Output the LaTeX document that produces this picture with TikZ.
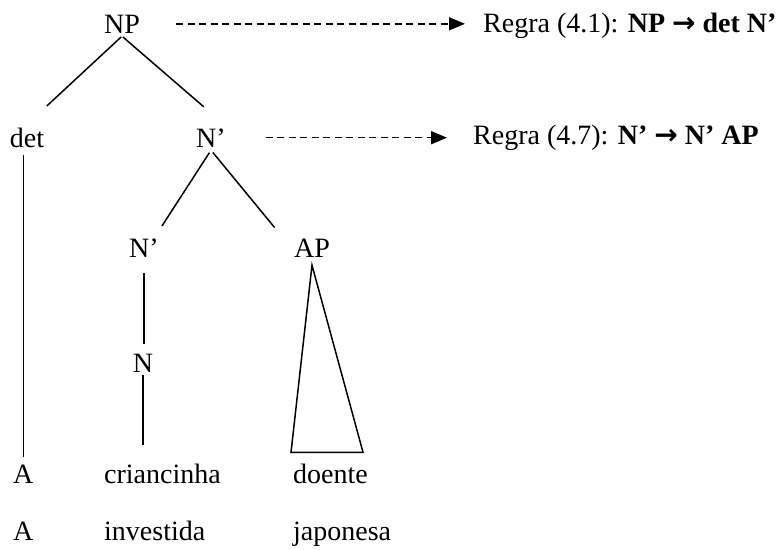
\documentclass[tikz,border=0pt]{standalone}
\usepackage{fontspec}
\setmainfont{Liberation Serif}
\newfontfamily\arrowfont{DejaVu Sans}
\usetikzlibrary{arrows.meta}

\newcommand{\rarr}{{\arrowfont\bfseries →}}

\begin{document}
\begin{tikzpicture}[x=1pt,y=-1pt,
		every node/.style={font=\fontsize{28}{32}\selectfont, inner sep=3pt},
		cat/.style={anchor=base},
		word/.style={anchor=base west},
		branch/.style={line width=1.5pt},
		rulearrow/.style={-{Triangle[length=16pt,width=13pt]}, line width=1.6pt, dash pattern=on 7pt off 4.5pt}]
		
		\useasboundingbox (0,0) rectangle (778,549);
		
		\node (np) [cat] at (122,33) {NP};
		\node (det) [cat] at (27,147) {det};
		\node (nbar) [cat] at (211,147) {N’};
		\node (nbarlow) [cat] at (144,257) {N’};
		\node (ap) [cat] at (312,257) {AP};
		\node (n) [cat] at (143,372) {N};
		
		\node (a1) [word] at (10,483) {A};
		\node (crian) [word] at (101,483) {criancinha};
		\node (doente) [word] at (290,483) {doente};
		\node (a2) [word] at (10,540) {A};
		\node (invest) [word] at (101,540) {investida};
		\node (japon) [word] at (290,540) {japonesa};
		
		\node (rule1) [word] at (480,32.5) {Regra (4.1): \textbf{NP \rarr{} det N’}};
		\node (rule2) [word] at (470,144.5) {Regra (4.7): \textbf{N’ \rarr{} N’ AP}};
		
		\path [branch]
		(np.south) edge [shorten <=1pt, shorten >=27pt] (det.north)
		(np.south) edge [shorten <=1pt, shorten >=28pt] ([xshift=14pt]nbar.north)
		(nbar.south) edge [shorten <=3pt, shorten >=11pt] ([xshift=12pt]nbarlow.north)
		(nbar.south) edge [shorten <=3pt, shorten >=10pt] ([xshift=-31pt]ap.north)
		(a1.north |- det.south) edge [shorten <=5pt, shorten >=4pt] (a1.north)
		(nbarlow.south) edge [shorten <=13pt, shorten >=6pt] (nbarlow.south |- n.north)
		(n.south) edge [shorten >=15pt] (n.south |- crian.north);
		
		\draw [branch] ([yshift=-5pt]ap.south) -- ([xshift=1pt,yshift=8pt]doente.north west)
		-- ([xshift=-8pt,yshift=8pt]doente.north east) -- cycle;
		
		\draw [rulearrow, shorten <=33pt, shorten >=15pt] (np.east) -- (np.east -| rule1.west);
		\draw [rulearrow, shorten <=37pt, shorten >=23pt] (nbar.east) -- (nbar.east -| rule2.west);
	\end{tikzpicture}
\end{document}
